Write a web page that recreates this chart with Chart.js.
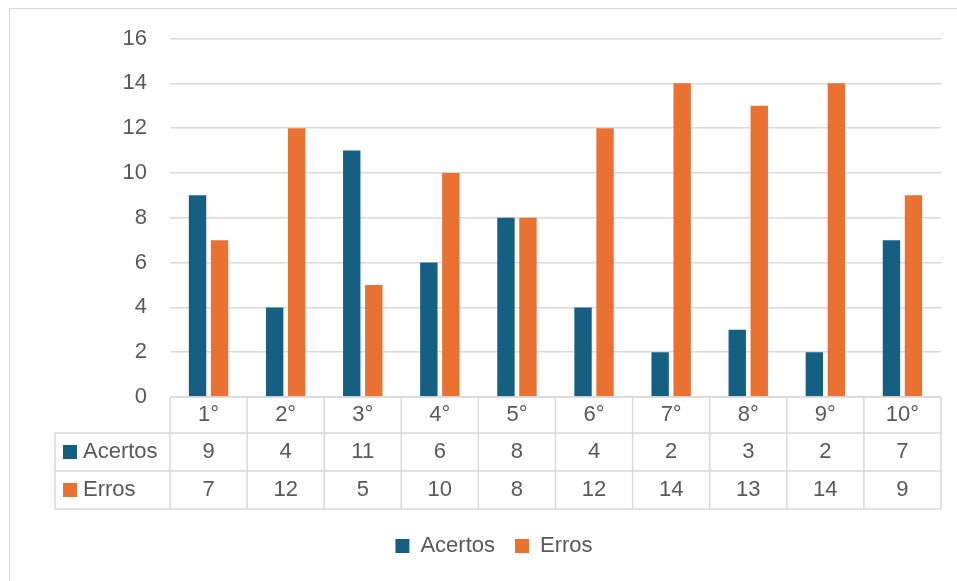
<!DOCTYPE html>
<html>
<head>
<meta charset="utf-8">
<script src="https://cdn.jsdelivr.net/npm/chart.js@4.4.1/dist/chart.umd.min.js"></script>
<style>
  html, body { margin: 0; padding: 0; background: #ffffff; }
  #wrap { position: relative; width: 957px; height: 581px; overflow: hidden; }
  #frame { position: absolute; left: 9px; top: 8px; width: 1000px; height: 700px;
           border-left: 1.5px solid #d9d9d9; border-top: 1.5px solid #d9d9d9; box-sizing: border-box; }
  #c { position: absolute; left: 0; top: 0; }
</style>
</head>
<body>
<div id="wrap">
  <div id="frame"></div>
  <canvas id="c" width="957" height="581"></canvas>
</div>
<script>
const categories = ["1°", "2°", "3°", "4°", "5°", "6°", "7°", "8°", "9°", "10°"];
const acertos = [9, 4, 11, 6, 8, 4, 2, 3, 2, 7];
const erros = [7, 12, 5, 10, 8, 12, 14, 13, 14, 9];
const seriesNames = ["Acertos", "Erros"];
const yTicks = [0, 2, 4, 6, 8, 10, 12, 14, 16];

const COL_A = "#156082";
const COL_E = "#E97132";
const TEXT = "#595959";
const GRID = "#d9d9d9";
const FONT = "'Liberation Sans', Arial, sans-serif";

const tablePlugin = {
  id: "dataTable",
  afterDraw(chart) {
    const ctx = chart.ctx;
    const x = chart.scales.x;
    const top = x.top;
    const left = x.left;
    const right = x.right;
    const n = categories.length;
    const colW = (right - left) / n;
    const rowTops = [top, top + 36, top + 74, top + 112];
    const bottom = rowTops[3];
    const tableLeft = 55;
    const colors = [null, COL_A, COL_E];
    ctx.save();
    ctx.strokeStyle = GRID;
    ctx.lineWidth = 1.5;
    ctx.beginPath();
    ctx.moveTo(left, top); ctx.lineTo(right, top);
    for (let r = 1; r <= 3; r++) {
      ctx.moveTo(tableLeft, rowTops[r]); ctx.lineTo(right, rowTops[r]);
    }
    for (let k = 0; k <= n; k++) {
      const xx = left + k * colW;
      ctx.moveTo(xx, top); ctx.lineTo(xx, bottom);
    }
    ctx.moveTo(tableLeft, rowTops[1]); ctx.lineTo(tableLeft, bottom);
    ctx.stroke();

    ctx.fillStyle = TEXT;
    ctx.font = "22px " + FONT;
    ctx.textAlign = "center";
    ctx.textBaseline = "middle";
    const mid = r => (rowTops[r] + rowTops[r + 1]) / 2;
    for (let i = 0; i < n; i++) {
      const cx = x.getPixelForValue(i);
      ctx.fillText(categories[i], cx, mid(0));
      ctx.fillText(String(acertos[i]), cx, mid(1));
      ctx.fillText(String(erros[i]), cx, mid(2));
    }
    ctx.textAlign = "left";
    for (let r = 1; r <= 2; r++) {
      const cy = mid(r);
      ctx.fillStyle = colors[r];
      ctx.fillRect(tableLeft + 8, cy - 7, 14, 14);
      ctx.fillStyle = TEXT;
      ctx.fillText(seriesNames[r - 1], tableLeft + 28, cy);
    }
    ctx.restore();
  }
};

new Chart(document.getElementById("c"), {
  type: "bar",
  data: {
    labels: categories,
    datasets: [
      { label: seriesNames[0], data: acertos, backgroundColor: COL_A, barPercentage: 0.79, categoryPercentage: 0.571 },
      { label: seriesNames[1], data: erros, backgroundColor: COL_E, barPercentage: 0.79, categoryPercentage: 0.571 }
    ]
  },
  options: {
    responsive: false,
    animation: false,
    devicePixelRatio: 1,
    layout: { padding: { left: 47, right: 16, top: 38.5, bottom: 14 } },
    plugins: {
      tooltip: { enabled: false },
      legend: {
        position: "bottom",
        labels: {
          boxWidth: 14, boxHeight: 14, padding: 20,
          color: TEXT, font: { family: FONT, size: 22 }
        }
      }
    },
    scales: {
      x: {
        display: true,
        offset: true,
        grid: { display: false },
        border: { display: false },
        ticks: { display: false },
        afterFit(scale) { scale.height = 118; }
      },
      y: {
        min: 0, max: 16,
        afterBuildTicks(scale) { scale.ticks = yTicks.map(v => ({ value: v })); },
        grid: { color: GRID, lineWidth: 1.5, drawTicks: false },
        border: { display: false },
        ticks: { color: TEXT, padding: 23, font: { family: FONT, size: 22 } },
        afterFit(scale) { scale.width = 123; }
      }
    }
  },
  plugins: [tablePlugin]
});
</script>
</body>
</html>
